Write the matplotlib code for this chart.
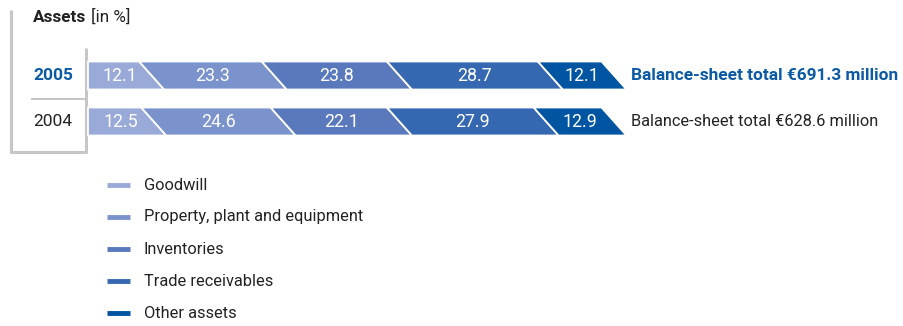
import matplotlib
matplotlib.use("Agg")
import matplotlib.pyplot as plt
from matplotlib.patches import Polygon
import numpy as np

plt.rcParams['font.family'] = ['Roboto', 'DejaVu Sans']

years = ["2005", "2004"]
categories = ["Goodwill", "Property, plant and equipment", "Inventories",
              "Trade receivables", "Other assets"]
values_2005 = [12.1, 23.3, 23.8, 28.7, 12.1]
values_2004 = [12.5, 24.6, 22.1, 27.9, 12.9]
totals = ["Balance-sheet total €691.3 million", "Balance-sheet total €628.6 million"]
colors = ["#99aad8", "#7b93cc", "#5a79bd", "#3568b1", "#0055a2"]
blue = "#0a5aa5"
gray = "#c6c6c6"

W, H = 904, 326
fig = plt.figure(figsize=(W / 100, H / 100), dpi=100)

ov = fig.add_axes([0, 0, 1, 1])
ov.set_xlim(0, W)
ov.set_ylim(H, 0)
ov.axis("off")

x0, x1 = 88, 614
ax = fig.add_axes([x0 / W, 0, (x1 - x0) / W, 1])
ax.set_xlim(0, 100)
pitch = 46.0
c0 = 75.5
ax.set_ylim((H - c0) / pitch, -c0 / pitch)
ax.axis("off")

bar_h = 28 / pitch
slant = 25 / ((x1 - x0) / 100.0)

for row, vals in enumerate([values_2005, values_2004]):
    cum = np.concatenate([[0], np.cumsum(vals)])
    top = row - bar_h / 2
    bot = row + bar_h / 2
    for j, v in enumerate(vals):
        L, R = cum[j], cum[j + 1]
        if j == 0:
            tl, bl = L, L
        else:
            tl, bl = L - slant / 2, L + slant / 2
        tr, br = R - slant / 2, R + slant / 2
        poly = Polygon([(tl, top), (tr, top), (br, bot), (bl, bot)], closed=True,
                       facecolor=colors[j], edgecolor="white", linewidth=1.3,
                       clip_on=False)
        ax.add_patch(poly)
        ax.text((L + R) / 2, row + 0.02, f"{v:.1f}", color="white", fontsize=12.8,
                ha="center", va="center", clip_on=False)

ov.text(33, 17, "Assets", fontsize=12.3, fontweight="bold", color="#222222",
        ha="left", va="center")
ov.text(91, 17, "[in %]", fontsize=12.3, color="#222222", ha="left", va="center")

ov.plot([11.5, 11.5], [10, 152.5], color=gray, lw=2.2, solid_capstyle="butt")
ov.plot([86.5, 86.5], [48, 152.5], color=gray, lw=2.2, solid_capstyle="butt")
ov.plot([10.5, 87.5], [152, 152], color=gray, lw=2.2, solid_capstyle="butt")
ov.plot([31, 86], [98.5, 98.5], color=gray, lw=1.4, solid_capstyle="butt")

ov.text(53, 76, years[0], fontsize=12.5, fontweight="bold", color=blue,
        ha="center", va="center")
ov.text(53, 122, years[1], fontsize=12.5, color="#222222", ha="center", va="center")

ov.text(631, 76, totals[0], fontsize=12.4, fontweight="bold", color=blue,
        ha="left", va="center")
ov.text(631, 122, totals[1], fontsize=11.8, color="#222222", ha="left", va="center")

for i, (name, col) in enumerate(zip(categories, colors)):
    y = 185 + 32 * i
    ov.plot([107, 130], [y, y], color=col, lw=3.5, solid_capstyle="butt")
    ov.text(144, y, name, fontsize=11.8, color="#222222", ha="left", va="center")

fig.savefig("out.png", dpi=100)
